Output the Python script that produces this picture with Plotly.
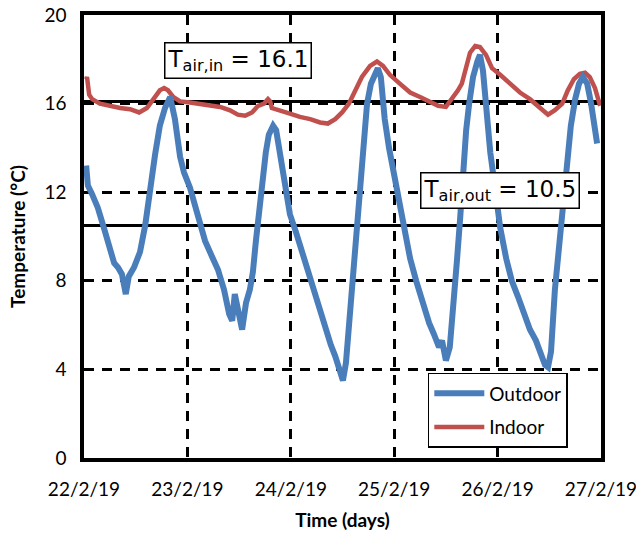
import pandas as pd
import plotly.graph_objects as go

# hours since 22/2/19 00:00
out_hours = [0.5, 0.9, 1.9, 3.2, 4.6, 6.0, 7.0, 7.9, 8.8, 9.7, 10.4, 11.6, 13.0, 14.2, 15.3, 16.5,
             17.6, 18.8, 20.0, 21.1, 22.3, 23.2, 24.6, 26.2, 28.1, 29.7, 31.1, 32.5, 33.7, 34.4,
             35.0, 36.7, 37.6, 38.5, 39.2, 39.9, 40.6, 41.3, 42.2, 42.9, 43.9, 44.6, 45.5, 46.4,
             47.8, 49.2, 50.6, 52.0, 53.4, 54.8, 56.2, 57.3, 58.3, 59.0, 59.7, 60.1, 60.8, 61.7,
             62.4, 63.1, 63.8, 64.8, 65.7, 66.6, 67.6, 68.2, 68.9, 69.8, 70.8, 71.9, 72.9, 74.3,
             75.7, 77.1, 78.5, 80.1, 81.2, 82.4, 83.1, 84.0, 84.9, 85.9, 86.6, 87.3, 88.0, 88.7,
             89.4, 90.3, 91.3, 91.9, 92.6, 93.3, 94.3, 95.4, 96.6, 98.0, 99.3, 100.7, 102.1, 103.5,
             104.9, 106.1, 107.0, 107.7, 108.4, 109.3, 110.3, 111.2, 112.1, 113.0, 114.0, 114.9,
             115.8, 116.8, 117.7, 118.4, 119.1]
out_temp = [13.2, 12.3, 11.9, 11.3, 10.4, 9.4, 8.8, 8.6, 8.3, 7.4, 8.2, 8.6, 9.3, 10.5, 12.2, 13.7,
            15.0, 15.8, 16.3, 15.3, 13.6, 12.9, 12.2, 11.1, 9.8, 9.1, 8.5, 7.6, 6.5, 6.2,
            7.4, 5.8, 7.0, 7.6, 8.4, 9.8, 11.2, 12.2, 13.8, 14.6, 15.0, 14.8, 13.6, 12.4,
            11.0, 10.2, 9.3, 8.4, 7.5, 6.6, 5.9, 5.1, 4.6, 4.2, 3.7, 3.5, 4.3, 6.5,
            8.5, 10.4, 12.0, 14.2, 16.0, 16.9, 17.4, 17.6, 17.2, 15.3, 14.0, 12.8, 12.0, 10.4,
            9.0, 8.0, 7.0, 6.1, 5.6, 5.0, 5.3, 4.4, 5.0, 7.0, 9.0, 10.8, 13.0, 14.8,
            16.0, 17.2, 17.9, 18.2, 17.5, 15.8, 13.8, 12.2, 10.4, 9.0, 8.0, 7.3, 6.5, 5.8,
            5.3, 4.6, 4.2, 4.1, 4.8, 7.6, 9.5, 11.2, 13.3, 15.0, 16.2, 16.9,
            17.2, 16.9, 16.0, 15.0, 14.2]

in_hours = [0.5, 0.7, 1.2, 1.9, 3.7, 6.0, 8.4, 10.7, 12.8, 14.6, 16.2, 17.6, 18.6, 19.5, 20.7,
            22.3, 24.6, 26.9, 29.2, 31.6, 33.9, 35.7, 37.4, 39.0, 40.4, 41.8, 42.7, 43.2, 43.6,
            45.5, 47.8, 50.1, 52.5, 54.8, 56.6, 58.3, 59.9, 61.5, 62.9, 64.5, 66.4, 68.0, 69.4,
            71.0, 73.3, 75.7, 78.0, 80.3, 82.2, 84.0, 85.4, 86.8, 87.7, 88.7, 89.6, 90.8, 91.9,
            93.3, 94.7, 96.6, 98.9, 101.2, 103.5, 105.8, 107.7, 109.3, 111.0, 112.3, 113.7,
            115.1, 116.3, 117.4, 118.6, 119.8]
in_temp = [17.1, 17.2, 16.4, 16.2, 16.0, 15.9, 15.8, 15.75, 15.6, 15.8, 16.2, 16.6, 16.7, 16.6, 16.3,
           16.1, 16.05, 16.0, 15.95, 15.85, 15.7, 15.5, 15.45, 15.6, 15.9, 16.0, 16.2, 16.1, 15.8,
           15.7, 15.55, 15.4, 15.3, 15.15, 15.1, 15.3, 15.6, 16.0, 16.6, 17.2, 17.7, 17.9, 17.7,
           17.3, 16.9, 16.5, 16.3, 16.05, 15.9, 15.85, 16.2, 16.6, 16.9, 17.6, 18.3, 18.6, 18.55,
           18.2, 17.6, 17.3, 16.9, 16.5, 16.2, 15.8, 15.5, 15.7, 16.0, 16.6, 17.1,
           17.35, 17.4, 17.2, 16.7, 15.9]

mean_in = 16.1
mean_out = 10.5

tick_dates = ["2019-02-22", "2019-02-23", "2019-02-24", "2019-02-25", "2019-02-26", "2019-02-27"]
tick_labels = ["22/2/19", "23/2/19", "24/2/19", "25/2/19", "26/2/19", "27/2/19"]
y_ticks = [0, 4, 8, 12, 16, 20]

start = pd.Timestamp("2019-02-22")
out_x = start + pd.to_timedelta(out_hours, unit="h")
in_x = start + pd.to_timedelta(in_hours, unit="h")

BLUE = "#4a7ebb"
RED = "#c0504d"
FONT = "Lato"

fig = go.Figure()
fig.add_trace(go.Scatter(x=in_x, y=in_temp, mode="lines", name="Indoor",
                         line=dict(color=RED, width=4.5), legendrank=2, legendgroup="b"))
fig.add_trace(go.Scatter(x=out_x, y=out_temp, mode="lines", name="Outdoor",
                         line=dict(color=BLUE, width=6), legendrank=1, legendgroup="a"))

for yv in [mean_in, mean_out]:
    fig.add_shape(type="line", xref="paper", x0=0, x1=1, yref="y", y0=yv, y1=yv,
                  line=dict(color="black", width=3), layer="between")

box = dict(bordercolor="black", borderwidth=1.5, borderpad=2, bgcolor="white",
           font=dict(family="DejaVu Sans", size=23, color="black"),
           xref="paper", yref="paper", showarrow=False, xanchor="center", yanchor="middle")
fig.add_annotation(text="T<sub>air,in</sub> = %.1f" % mean_in, x=0.298, y=0.898, **box)
fig.add_annotation(text="T<sub>air,out</sub> = %.1f" % mean_out, x=0.805, y=0.603, **box)

fig.update_layout(
    width=636, height=535,
    margin=dict(l=84, r=35, t=15, b=77),
    paper_bgcolor="white", plot_bgcolor="white",
    font=dict(family=FONT, size=17, color="black"),
    showlegend=True,
    legend=dict(x=0.665, y=0.192, xanchor="left", yanchor="top",
                bgcolor="white", bordercolor="black", borderwidth=1.5,
                font=dict(family=FONT, size=19, color="black"),
                traceorder="grouped", tracegroupgap=6, itemwidth=50),
)
fig.update_xaxes(
    range=[start, pd.Timestamp("2019-02-27")],
    tickvals=pd.to_datetime(tick_dates), ticktext=tick_labels,
    showline=True, mirror=True, linecolor="black", linewidth=3.5,
    showgrid=True, gridcolor="black", gridwidth=2.5, griddash="10px,8px",
    zeroline=False, ticks="", ticklabelstandoff=11, automargin=False,
    ticklabeloverflow="allow",
    tickfont=dict(family=FONT, size=19),
    title=dict(text="<b>Time (days)</b>", font=dict(family=FONT, size=19), standoff=16),
)
fig.update_yaxes(
    range=[0, 20], tickvals=y_ticks,
    showline=True, mirror=True, linecolor="black", linewidth=3.5,
    showgrid=True, gridcolor="black", gridwidth=2.5, griddash="10px,8px",
    zeroline=False, ticks="", ticklabelstandoff=10, automargin=False,
    ticklabeloverflow="allow",
    tickfont=dict(family=FONT, size=19),
    title=dict(text="<b>Temperature (°C)</b>", font=dict(family=FONT, size=19), standoff=15),
)

fig.write_html("out.html", config={"displayModeBar": False},
               post_script="document.body.style.margin='0';document.body.style.overflow='hidden';")
